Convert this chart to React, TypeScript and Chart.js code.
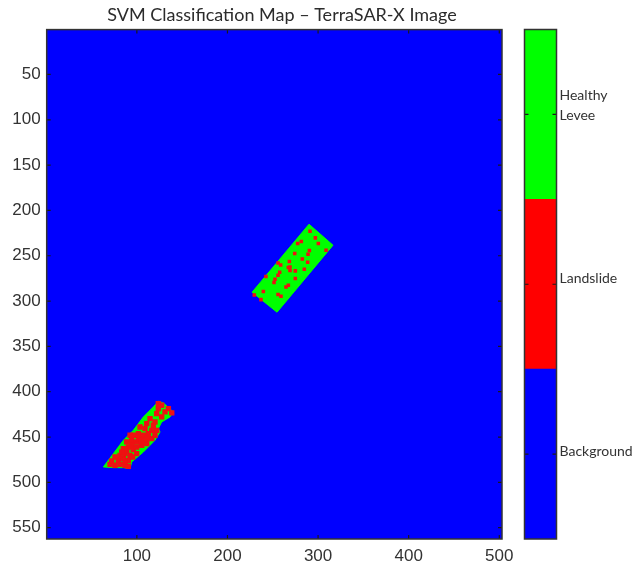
import React, { useEffect, useRef } from "react";
import { Chart, registerables } from "chart.js";

Chart.register(...registerables);

const titleText = "SVM Classification Map – TerraSAR-X Image";
const xTicks = [100, 200, 300, 400, 500];
const yTicks = [50, 100, 150, 200, 250, 300, 350, 400, 450, 500, 550];

const upperLevee = [
  { x: 290, y: 215.2 }, { x: 316.5, y: 238.4 }, { x: 254.7, y: 312.3 }, { x: 227.2, y: 290.2 },
];
const lowerLevee = [
  { x: 63, y: 483 }, { x: 85.1, y: 453.6 }, { x: 96.1, y: 442.6 }, { x: 107.2, y: 427.8 },
  { x: 118.2, y: 416.8 }, { x: 123.7, y: 410.5 }, { x: 129.3, y: 412.4 }, { x: 140.3, y: 422.3 },
  { x: 136.6, y: 427.8 }, { x: 127.4, y: 433.4 }, { x: 123.7, y: 440.7 }, { x: 125.6, y: 444.4 },
  { x: 120, y: 453.6 }, { x: 107.2, y: 466.5 }, { x: 94.3, y: 477.5 }, { x: 92.5, y: 484.9 },
  { x: 85.1, y: 483.8 }, { x: 74.1, y: 483.8 },
];
const upperSlides = [
  [291.1, 222.9], [277.5, 236.5], [281.5, 234.3], [297, 230.3], [300.3, 236.5], [274.2, 247.6],
  [290.4, 244.3], [288.9, 248.3], [308.8, 243.9], [282.6, 253.5], [288.5, 257.1], [268.3, 256.4],
  [255.8, 257.9], [258.7, 260.1], [269, 262.3], [267.2, 263], [269, 266.3], [274.9, 266.7],
  [284.8, 264.9], [257.6, 268.2], [255.8, 271.5], [242.5, 273], [252.5, 275.9], [251.4, 279.6],
  [274.9, 275.2], [267.2, 282.5], [264.6, 284.4], [239.6, 289.5], [255.8, 292.8], [259.1, 294.7],
  [229.6, 293.2], [237, 298.4],
];
const lowerSlides = [
  [70.4, 480.1], [75.9, 481.2], [81.4, 480.1], [86.9, 481.2], [90.6, 482.3], [79.6, 475.7],
  [85.1, 473.8], [90.6, 475.7], [81.4, 470.2], [86.9, 468.3], [92.5, 470.2], [85.1, 462.8],
  [90.6, 461], [96.1, 463.9], [88.8, 455.4], [94.3, 453.6], [99.8, 455.4], [96.1, 448.1],
  [101.7, 446.2], [105.3, 459.1], [110.9, 457.3], [116.4, 451.8], [120, 448.1], [121.9, 442.6],
  [107.2, 448.1], [112.7, 446.2], [103.5, 438.9], [110.9, 435.2], [118.2, 437], [114.5, 429.7],
  [123.7, 413.1], [127.4, 415], [134.8, 418.6], [138.5, 423.4], [121.9, 424.2], [127.4, 427.8],
  [72.2, 476.4], [75.9, 472], [83.3, 466.5], [88.8, 465.4], [94.3, 459.1], [99.8, 461],
  [101.7, 451.8], [99.8, 468.3], [95.4, 472], [86.9, 477.5], [92.5, 448.1], [105.3, 453.6],
  [110.9, 451.8], [109, 440.7], [116.4, 442.6], [120, 433.4], [123.7, 418.6], [131.1, 422.3],
];

const classNames = ["Background", "Landslide", ["Healthy", "Levee"]];
const classSpans = [1, 1, 1];
const classColors = ["#0000ff", "#ff0000", "#00ff00"];
const classTicks = [0.5, 1.5, 2.5];
const classLabelAt = [0.514, 1.532, 2.553];

const toPoints = (rows: number[][]) => rows.map(([x, y]) => ({ x, y }));

const frame = {
  id: "frame",
  beforeDatasetsDraw(c: any) {
    const fill = c.options.plugins.frame?.fill;
    if (fill) {
      const a = c.chartArea;
      c.ctx.fillStyle = fill;
      c.ctx.fillRect(a.left, a.top, a.width, a.height);
    }
  },
  afterDatasetsDraw(c: any) {
    const a = c.chartArea;
    const ctx = c.ctx;
    const len = 4;
    ctx.save();
    ctx.strokeStyle = "#1a1a1a";
    ctx.lineWidth = 1.2;
    ctx.beginPath();
    const y = c.scales.y;
    const marks: number[] = c.options.plugins.frame?.marks || y.ticks.map((t: any) => t.value);
    marks.forEach((v) => {
      const p = y.getPixelForValue(v);
      ctx.moveTo(a.left, p); ctx.lineTo(a.left + len, p);
      ctx.moveTo(a.right, p); ctx.lineTo(a.right - len, p);
    });
    if (c.options.plugins.frame?.fill) {
      const x = c.scales.x;
      x.ticks.forEach((t: any) => {
        const p = x.getPixelForValue(t.value);
        ctx.moveTo(p, a.top); ctx.lineTo(p, a.top + len);
        ctx.moveTo(p, a.bottom); ctx.lineTo(p, a.bottom - len);
      });
    }
    ctx.stroke();
    ctx.strokeStyle = "#333333";
    ctx.lineWidth = 1.5;
    ctx.strokeRect(a.left, a.top, a.width, a.height);
    ctx.restore();
  },
};

export default function App() {
  const mapRef = useRef<HTMLCanvasElement>(null);
  const barRef = useRef<HTMLCanvasElement>(null);

  useEffect(() => {
    const area = (data: any[]) => ({
      type: "line",
      data: [...data, data[0]],
      borderColor: "#00ff00",
      borderWidth: 1,
      backgroundColor: "#00ff00",
      fill: "shape",
      showLine: true,
      pointRadius: 0,
      tension: 0,
      order: 2,
    });
    const dots = (rows: number[][], radius: number) => ({
      type: "scatter",
      data: toPoints(rows),
      pointStyle: "rect",
      pointRadius: radius,
      pointBorderWidth: 0,
      backgroundColor: "#ee1111",
      order: 1,
    });
    const map = new Chart(mapRef.current!, {
      type: "scatter",
      data: {
        datasets: [
          area(upperLevee),
          area(lowerLevee),
          dots(upperSlides, 2.5),
          dots(lowerSlides, 3.8),
        ],
      } as any,
      plugins: [frame],
      options: {
        animation: false,
        responsive: false,
        plugins: {
          legend: { display: false },
          tooltip: { enabled: false },
          frame: { fill: "#0000ff" },
          title: {
            display: true,
            text: titleText,
            color: "#2b2b2b",
            font: { family: "Lato", size: 18, weight: "normal", lineHeight: 1.2 },
            padding: { top: 4, bottom: 4 },
          },
        } as any,
        scales: {
          x: {
            type: "linear",
            min: 0.5,
            max: 503,
            grid: { display: false, drawTicks: false },
            border: { display: false },
            afterBuildTicks: (s: any) => { s.ticks = xTicks.map((value) => ({ value })); },
            afterFit: (s: any) => { s.height = 28; },
            ticks: {
              color: "#333333",
              padding: 7,
              maxRotation: 0,
              autoSkip: false,
              font: { family: "Liberation Sans", size: 17 },
            },
          },
          y: {
            type: "linear",
            reverse: true,
            min: 0.5,
            max: 562.5,
            grid: { display: false, drawTicks: false },
            border: { display: false },
            afterBuildTicks: (s: any) => { s.ticks = yTicks.map((value) => ({ value })); },
            afterFit: (s: any) => { s.width = 46.7; },
            ticks: {
              color: "#333333",
              padding: 6,
              autoSkip: false,
              font: { family: "Liberation Sans", size: 17 },
            },
          },
          spacer: {
            type: "linear",
            position: "right",
            display: true,
            grid: { display: false, drawTicks: false },
            border: { display: false },
            ticks: { display: false },
            afterFit: (s: any) => { s.width = 62; },
          },
        },
      } as any,
    });

    const bar = new Chart(barRef.current!, {
      type: "bar",
      data: {
        labels: ["classes"],
        datasets: classSpans.map((v, i) => ({
          data: [v],
          backgroundColor: classColors[i],
          barPercentage: 1,
          categoryPercentage: 1,
          borderWidth: 0,
        })),
      },
      plugins: [frame],
      options: {
        animation: false,
        responsive: false,
        layout: { padding: { left: 14.5, right: 0, top: 29.5, bottom: 28 } },
        plugins: {
          legend: { display: false },
          tooltip: { enabled: false },
          frame: { marks: classTicks },
        } as any,
        scales: {
          x: { stacked: true, display: false },
          y: {
            stacked: true,
            position: "right",
            min: 0,
            max: 3,
            grid: { display: false, drawTicks: false },
            border: { display: false },
            afterBuildTicks: (s: any) => { s.ticks = classLabelAt.map((value) => ({ value })); },
            afterFit: (s: any) => { s.width = 80.5; },
            ticks: {
              color: "#333333",
              padding: 3,
              autoSkip: false,
              font: { family: "Lato", size: 14, lineHeight: 1.4 },
              callback: (_v: any, i: number) => classNames[i],
            },
          },
        },
      } as any,
    });

    return () => {
      map.destroy();
      bar.destroy();
    };
  }, []);

  return (
    <div style={{ position: "absolute", left: 0, top: 0, width: 637, height: 567, background: "#fff" }}>
      <canvas ref={mapRef} width={564} height={567} style={{ position: "absolute", left: 0, top: 0 }} />
      <canvas ref={barRef} width={127} height={567} style={{ position: "absolute", left: 510, top: 0 }} />
    </div>
  );
}
